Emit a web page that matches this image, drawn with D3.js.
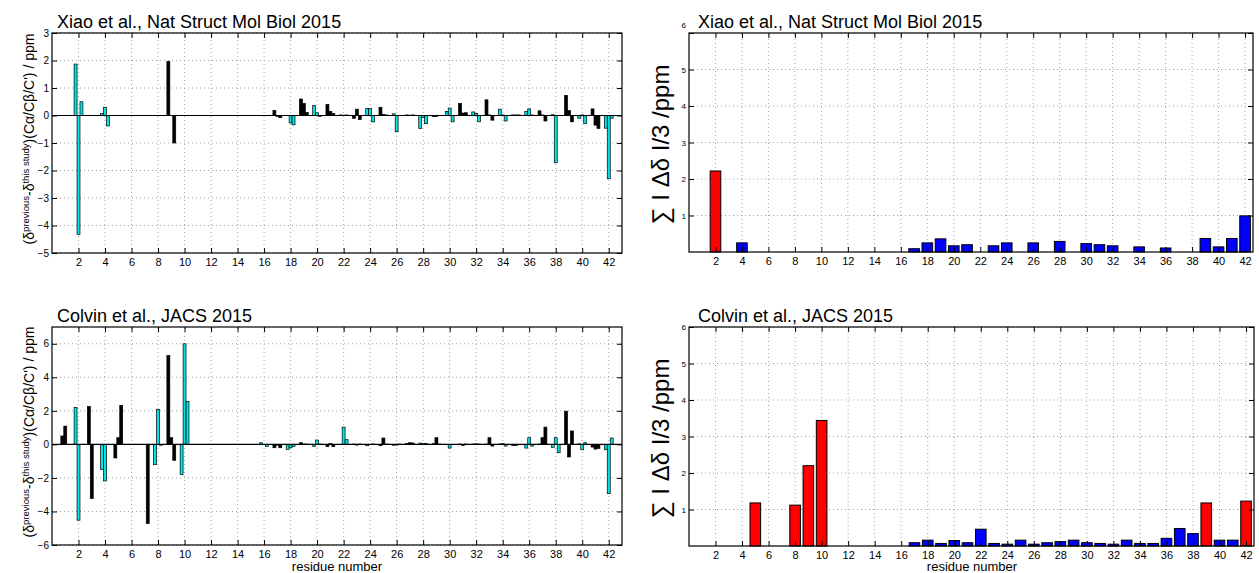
<!DOCTYPE html>
<html>
<head>
<meta charset="utf-8">
<script src="https://cdnjs.cloudflare.com/ajax/libs/d3/7.8.5/d3.min.js"></script>
<style>
body { margin: 0; background: #fff; }
svg { font-family: "Liberation Sans", Arial, Helvetica, sans-serif; }
.grid line { stroke: #8c8c8c; stroke-width: 0.8; stroke-dasharray: 1,3; }
</style>
</head>
<body>
<div id="chart"></div>
<script>
// residue numbers 1..42
var residues = d3.range(1, 43);
var xTicks = d3.range(2, 43, 2);

// Xiao et al. differences (Ca, Cb, C') per residue
var xiaoCA = [0, 1.87, 0, 0.07, 0, 0, 0, 0, 1.97, 0, 0, 0, 0, 0, 0, 0, 0.18, 0, 0.6, 0.36, 0.4,
              0.02, -0.1, 0.25, 0.3, 0.06, 0.02, -0.47, -0.04, 0.15, 0.44, 0.13, 0.57, 0.23, 0.02, 0.15, 0.17, 0.03, 0.73, -0.1, 0.24, -0.46];
var xiaoCB = [0, -4.32, 0, 0.3, 0, 0, 0, 0, 0, 0, 0, 0, 0, 0, 0, 0, -0.03, -0.27, 0.44, 0.1, 0.15,
              0.01, 0.23, 0.25, 0.04, -0.59, 0.01, -0.08, -0.03, 0.27, 0.09, 0.07, 0.02, 0.02, 0.02, 0.24, 0.02, -1.72, 0.18, 0.02, -0.35, -2.3];
var xiaoCO = [0, 0.5, 0, -0.38, 0, 0, 0, 0, -1.0, 0, 0, 0, 0, 0, 0, 0, -0.08, -0.34, 0.11, -0.03, 0.07,
              0.02, -0.15, -0.23, 0.02, 0, 0.02, -0.3, 0, -0.23, 0.1, -0.23, -0.17, -0.2, 0.02, 0.02, -0.2, 0, -0.23, -0.3, -0.47, -0.1];

// Colvin et al. differences (Ca, Cb, C') per residue
var colvinCA = [0.5, 2.2, 2.26, -1.49, -0.81, 0, 0, -1.21, 5.3, -1.79, 0, 0, 0, 0, 0, 0.1, -0.2, -0.3, 0.1, -0.12, -0.13,
                0, 0.02, -0.08, -0.08, -0.05, 0.05, 0.08, 0.04, 0, 0.02, 0.02, 0.02, 0.02, -0.06, -0.22, 0.02, -0.18, 1.98, 0.03, -0.16, -0.32];
var colvinCB = [1.09, -4.52, -3.23, -2.18, 0.4, 0, 0, 2.08, 0.4, 6.0, 0, 0, 0, 0, 0, 0, -0.05, -0.2, 0.02, 0.26, 0.05,
                1.03, -0.04, 0, 0.38, -0.04, 0.1, 0.05, 0.4, -0.22, -0.06, 0.03, 0.4, 0.04, -0.06, 0.4, 0.4, 0.4, -0.75, -0.32, -0.28, -2.94];
var colvinCO = [0, 0, 0, 0, 2.32, 0, -4.72, -0.05, -0.95, 2.56, 0, 0, 0, 0, 0, -0.12, -0.2, -0.12, 0.02, 0.02, -0.13,
                0.28, 0.02, 0.02, 0.02, 0.02, 0.08, 0.05, 0.02, 0, 0.02, 0.02, -0.1, -0.1, -0.02, -0.1, 1.03, -0.5, 0.8, 0.1, -0.24, 0.38];

// sum |delta| / 3 per residue (0 = not shown)
var xiaoSum = [0, 2.22, 0, 0.25, 0, 0, 0, 0, 0, 0, 0, 0, 0, 0, 0, 0, 0.09, 0.25, 0.36, 0.17, 0.2,
               0, 0.17, 0.25, 0, 0.25, 0, 0.29, 0, 0.23, 0.2, 0.17, 0, 0.14, 0, 0.11, 0, 0, 0.37, 0.14, 0.37, 0.99];
var colvinSum = [0, 0, 0, 0, 1.18, 0, 0, 1.12, 2.2, 3.44, 0, 0, 0, 0, 0, 0, 0.09, 0.16, 0.07, 0.15, 0.09,
                 0.46, 0.07, 0.05, 0.16, 0.05, 0.09, 0.12, 0.16, 0.09, 0.07, 0.05, 0.16, 0.07, 0.07, 0.21, 0.48, 0.34, 1.18, 0.16, 0.16, 1.23];

var diffTicksTop = [-5, -4, -3, -2, -1, 0, 1, 2, 3];
var diffTicksBottom = [-6, -4, -2, 0, 2, 4, 6];
var sumTicks = [1, 2, 3, 4, 5, 6];

var fontFam = '"Liberation Sans", Arial, Helvetica, sans-serif';

var svg = d3.select("#chart").append("svg")
    .attr("width", 1259)
    .attr("height", 573);


function grid(g, x, y, yTicks) {
    var gg = g.append("g").attr("class", "grid");
    gg.selectAll(".gx").data(xTicks).enter().append("line")
        .attr("x1", function(d) { return x(d); })
        .attr("x2", function(d) { return x(d); })
        .attr("y1", y.range()[0])
        .attr("y2", y.range()[1]);
    gg.selectAll(".gy").data(yTicks).enter().append("line")
        .attr("x1", x.range()[0])
        .attr("x2", x.range()[1])
        .attr("y1", function(d) { return y(d); })
        .attr("y2", function(d) { return y(d); });
}

function axes(g, x, y, yTicks, yLabelSize, topShift) {
    var b = y.range()[0], t = y.range()[1], l = x.range()[0], r = x.range()[1];

    g.append("g")
        .attr("transform", "translate(0," + b + ")")
        .call(d3.axisBottom(x).tickValues(xTicks).tickSize(-5).tickPadding(5))
        .attr("font-family", fontFam).attr("font-size", 11)
        .call(function(a) { a.select(".domain").remove(); });
    g.append("g")
        .attr("transform", "translate(0," + t + ")")
        .call(d3.axisTop(x).tickValues(xTicks).tickSize(-5).tickFormat(""))
        .call(function(a) { a.select(".domain").remove(); });
    var ya = g.append("g")
        .attr("transform", "translate(" + l + ",0)")
        .call(d3.axisLeft(y).tickValues(yTicks).tickSize(-5).tickPadding(3)
              .tickFormat(function(d) { return d < 0 ? "\u2212" + (-d) : d; }))
        .attr("font-family", fontFam).attr("font-size", yLabelSize)
        .call(function(a) { a.select(".domain").remove(); });
    if (topShift) {
        // the top label sits a little above its tick in the original
        ya.selectAll(".tick").filter(function(d) { return d === yTicks[yTicks.length - 1]; })
            .select("text").attr("y", -topShift);
    }
    g.append("g")
        .attr("transform", "translate(" + r + ",0)")
        .call(d3.axisRight(y).tickValues(yTicks).tickSize(-5).tickFormat(""))
        .call(function(a) { a.select(".domain").remove(); });

    g.append("rect")
        .attr("x", l).attr("y", t)
        .attr("width", r - l).attr("height", b - t)
        .attr("fill", "none").attr("stroke", "#000").attr("stroke-width", 1.2);
}

function diffPanel(top, bottom, yDomain, yTicks, title, ca, cb, co) {
    var x = d3.scaleLinear().domain([0, 43]).range([52, 622]);
    var y = d3.scaleLinear().domain(yDomain).range([bottom, top]);
    var g = svg.append("g");

    grid(g, x, y, yTicks);

    var offsets = [-0.222, 0, 0.222];
    var bw = 0.222;
    [ca, cb, co].forEach(function(vals, k) {
        var pts = vals.map(function(v, i) { return {r: residues[i], v: v}; })
                      .filter(function(d) { return d.v !== 0; });
        g.selectAll(null).data(pts).enter().append("rect")
            .attr("x", function(d) { return x(d.r + offsets[k] - bw / 2); })
            .attr("width", x(bw) - x(0))
            .attr("y", function(d) { return y(Math.max(0, d.v)); })
            .attr("height", function(d) { return Math.abs(y(d.v) - y(0)); })
            .attr("fill", function(d) { return d.r % 2 ? "#000" : "#00e4e4"; })   // odd residues black, even cyan
            .attr("stroke", "#000")
            .attr("stroke-width", 0.7);
    });

    g.append("line")
        .attr("x1", x.range()[0]).attr("x2", x.range()[1])
        .attr("y1", y(0)).attr("y2", y(0))
        .attr("stroke", "#000").attr("stroke-width", 1.2);

    axes(g, x, y, yTicks, 10, 0);

    g.append("text")
        .attr("x", 57).attr("y", top - 5)
        .attr("font-size", 18)
        .text(title);

    var mid = (top + bottom) / 2 - 4;
    var lab = g.append("text")
        .attr("transform", "translate(34," + mid + ") rotate(-90)")
        .attr("text-anchor", "middle")
        .attr("font-size", 14);
    lab.append("tspan").text("(\u03b4");
    lab.append("tspan").attr("font-size", 9.5).attr("dy", -5).text("previous");
    lab.append("tspan").attr("dy", 5).text("-\u03b4");
    lab.append("tspan").attr("font-size", 9.5).attr("dy", -5).text("this study");
    lab.append("tspan").attr("dy", 5).text(")(C\u03b1/C\u03b2/C') / ppm");
}

function sumPanel(top, bottom, right, title, vals, topShift) {
    var x = d3.scaleLinear().domain([0, 42.6]).range([689, right]);
    var y = d3.scaleLinear().domain([0, 6]).range([bottom, top]);
    var g = svg.append("g");

    grid(g, x, y, sumTicks);

    var pts = vals.map(function(v, i) { return {r: residues[i], v: v}; })
                  .filter(function(d) { return d.v > 0; });
    g.selectAll(".bar").data(pts).enter().append("rect")
        .attr("class", "bar")
        .attr("x", function(d) { return x(d.r - 0.4); })
        .attr("width", x(0.8) - x(0))
        .attr("y", function(d) { return y(d.v); })
        .attr("height", function(d) { return y(0) - y(d.v); })
        .attr("fill", function(d) { return d.v > 1 ? "#ff0000" : "#0000ff"; })
        .attr("stroke", "#000")
        .attr("stroke-width", 1);

    axes(g, x, y, sumTicks, 8, topShift);

    g.append("text")
        .attr("x", 698).attr("y", top - 5)
        .attr("font-size", 18)
        .text(title);

    g.append("text")
        .attr("transform", "translate(669," + ((top + bottom) / 2 + 2) + ") rotate(-90)")
        .attr("text-anchor", "middle")
        .attr("font-size", 24)
        .text("\u2211 I \u0394\u03b4 I/3 /ppm");
}

diffPanel(33, 253, [-5, 3], diffTicksTop, "Xiao et al., Nat Struct Mol Biol 2015", xiaoCA, xiaoCB, xiaoCO);
diffPanel(327, 545, [-6, 7], diffTicksBottom, "Colvin et al., JACS 2015", colvinCA, colvinCB, colvinCO);
sumPanel(33, 252, 1253, "Xiao et al., Nat Struct Mol Biol 2015", xiaoSum, 8);
sumPanel(327, 546, 1254, "Colvin et al., JACS 2015", colvinSum, 0);

svg.append("text").attr("x", 337).attr("y", 571).attr("text-anchor", "middle")
    .attr("font-size", 13).text("residue number");
svg.append("text").attr("x", 972).attr("y", 571).attr("text-anchor", "middle")
    .attr("font-size", 13).text("residue number");
</script>
</body>
</html>
